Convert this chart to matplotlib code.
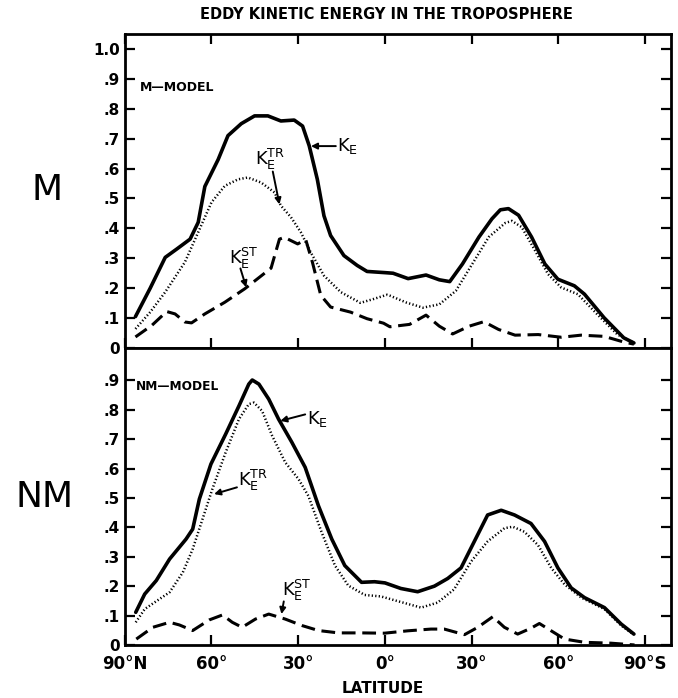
import matplotlib
matplotlib.use("Agg")
import matplotlib.pyplot as plt

plt.rcParams["font.family"] = "DejaVu Sans"
plt.rcParams["mathtext.fontset"] = "dejavusans"

# latitude: negative = north, positive = south
m_ke_lat = [-86.3, -81.2, -76.0, -72.0, -67.4, -64.6, -62.3, -57.7, -54.3, -49.7, -45.1, -40.5,
            -36.0, -31.4, -28.5, -26.2, -23.4, -21.1, -18.8, -14.2, -9.6, -6.2, 0.0, 2.8, 8.0,
            14.2, 18.8, 22.4, 26.8, 32.5, 37.0, 39.9, 42.7, 46.2, 50.7, 55.3, 59.8, 65.5, 69.0,
            75.8, 82.6, 86.1]
m_ke = [0.105, 0.2, 0.303, 0.331, 0.364, 0.42, 0.54, 0.63, 0.71, 0.75, 0.776, 0.776,
        0.759, 0.762, 0.742, 0.676, 0.564, 0.442, 0.376, 0.309, 0.276, 0.256, 0.252, 0.25, 0.232,
        0.244, 0.228, 0.222, 0.281, 0.371, 0.432, 0.462, 0.466, 0.444, 0.371, 0.281, 0.23, 0.208, 0.18,
        0.101, 0.034, 0.017]

m_tr_lat = [-86.3, -81.2, -76.0, -69.2, -64.6, -60.0, -55.4, -50.8, -47.4, -42.8, -38.2, -36.0,
            -32.5, -29.1, -25.7, -21.1, -15.3, -8.5, -3.9, 0.7, 1.7, 7.4, 13.1, 18.8, 24.5, 30.2,
            35.9, 41.6, 43.9, 47.3, 51.9, 56.4, 61.0, 66.7, 73.5, 80.4, 86.1]
m_tr = [0.064, 0.12, 0.187, 0.287, 0.387, 0.487, 0.542, 0.564, 0.57, 0.553, 0.52, 0.476,
        0.437, 0.387, 0.32, 0.242, 0.187, 0.151, 0.164, 0.178, 0.175, 0.152, 0.135, 0.146, 0.191, 0.281,
        0.371, 0.418, 0.425, 0.404, 0.326, 0.247, 0.202, 0.18, 0.112, 0.045, 0.017]

m_st_lat = [-86.3, -80.6, -75.5, -72.6, -69.2, -66.9, -62.3, -55.4, -48.5, -39.4, -36.5, -34.8,
            -30.2, -27.4, -25.1, -22.2, -18.8, -11.9, -6.2, -0.5, 1.7, 8.5, 14.2, 18.8, 23.4, 29.1,
            34.2, 39.3, 45.0, 53.0, 61.0, 67.8, 75.8, 82.6, 86.1]
m_st = [0.037, 0.076, 0.122, 0.114, 0.087, 0.084, 0.114, 0.153, 0.198, 0.267, 0.364, 0.37,
        0.348, 0.362, 0.287, 0.176, 0.137, 0.12, 0.098, 0.083, 0.071, 0.079, 0.11, 0.073, 0.047, 0.073,
        0.088, 0.062, 0.043, 0.045, 0.036, 0.043, 0.039, 0.02, 0.013]

nm_ke_lat = [-86.2, -83.1, -79.1, -74.5, -68.8, -66.5, -64.2, -60.2, -55.1, -50.5, -47.1, -45.9,
             -43.6, -40.2, -36.8, -32.2, -27.6, -23.0, -18.4, -13.9, -8.1, -3.6, 0.0, 5.5, 11.3,
             17.1, 21.7, 26.3, 30.9, 35.5, 40.2, 44.8, 50.5, 55.2, 59.8, 64.4, 69.0, 75.9, 81.7, 86.1]
nm_ke = [0.111, 0.173, 0.219, 0.292, 0.36, 0.394, 0.496, 0.615, 0.717, 0.813, 0.887, 0.901,
         0.887, 0.836, 0.768, 0.689, 0.604, 0.473, 0.36, 0.27, 0.213, 0.215, 0.211, 0.192, 0.181,
         0.2, 0.226, 0.262, 0.352, 0.442, 0.458, 0.442, 0.413, 0.352, 0.262, 0.194, 0.161, 0.127, 0.071, 0.037]

nm_tr_lat = [-86.2, -83.1, -78.0, -74.5, -69.9, -66.5, -63.1, -59.7, -55.1, -50.5, -47.1, -45.3,
             -42.5, -39.0, -34.5, -29.9, -26.5, -21.9, -17.3, -12.7, -7.0, -1.4, 4.4, 12.5, 18.2,
             23.9, 29.8, 35.5, 41.3, 44.2, 48.2, 52.9, 57.5, 62.1, 67.9, 75.9, 81.7, 86.1]
nm_tr = [0.077, 0.122, 0.156, 0.179, 0.247, 0.326, 0.428, 0.53, 0.655, 0.768, 0.819, 0.824,
         0.796, 0.711, 0.621, 0.564, 0.507, 0.383, 0.27, 0.202, 0.17, 0.165, 0.149, 0.127, 0.144,
         0.189, 0.284, 0.352, 0.397, 0.402, 0.385, 0.34, 0.262, 0.206, 0.161, 0.122, 0.066, 0.035]

nm_st_lat = [-86.0, -80.3, -74.5, -71.1, -66.5, -60.8, -56.2, -52.8, -49.4, -44.8, -40.2, -34.5,
             -28.7, -23.0, -16.1, -8.1, -0.2, 7.8, 15.9, 20.5, 27.5, 32.1, 37.3, 41.3, 45.9, 50.5,
             53.4, 57.5, 62.1, 69.0, 78.2, 86.3]
nm_st = [0.02, 0.06, 0.077, 0.068, 0.049, 0.085, 0.102, 0.077, 0.06, 0.088, 0.105, 0.088,
         0.066, 0.049, 0.041, 0.041, 0.04, 0.048, 0.054, 0.054, 0.035, 0.06, 0.096, 0.06, 0.037, 0.057,
         0.073, 0.048, 0.02, 0.009, 0.006, 0.0]

x_ticks = [-90, -60, -30, 0, 30, 60, 90]
x_labels = ["90°N", "60°", "30°", "0°", "30°", "60°", "90°S"]
m_yticks = [0, .1, .2, .3, .4, .5, .6, .7, .8, .9, 1.0]
m_ylabels = ["0", ".1", ".2", ".3", ".4", ".5", ".6", ".7", ".8", ".9", "1.0"]
nm_yticks = [0, .1, .2, .3, .4, .5, .6, .7, .8, .9]
nm_ylabels = ["0", ".1", ".2", ".3", ".4", ".5", ".6", ".7", ".8", ".9"]

fig = plt.figure(figsize=(6.78, 6.98), dpi=100)
ax1 = fig.add_axes([0.184, 0.5014, 0.806, 0.450])
ax2 = fig.add_axes([0.184, 0.076, 0.806, 0.4255])

solid = dict(color="black", lw=2.6, solid_joinstyle="round", solid_capstyle="round")
dotted = dict(color="black", lw=1.8, linestyle=(0, (0.5, 0.9)))
dashed = dict(color="black", lw=2.2, linestyle=(0, (4.5, 2.2)))

ax1.plot(m_ke_lat, m_ke, **solid)
ax1.plot(m_tr_lat, m_tr, **dotted)
ax1.plot(m_st_lat, m_st, **dashed)
ax2.plot(nm_ke_lat, nm_ke, **solid)
ax2.plot(nm_tr_lat, nm_tr, **dotted)
ax2.plot(nm_st_lat, nm_st, **dashed)

for ax in (ax1, ax2):
    ax.set_xlim(-90, 99)
    ax.set_xticks(x_ticks)
    for s in ax.spines.values():
        s.set_linewidth(2.0)
    ax.tick_params(direction="in", length=7, width=1.6, right=True, labelsize=11)

ax1.set_ylim(0, 1.05)
ax1.set_yticks(m_yticks)
ax1.set_yticklabels(m_ylabels, fontweight="bold", fontsize=11)
ax1.tick_params(top=True, labelbottom=False)
ax2.set_ylim(0, 1.01)
ax2.set_yticks(nm_yticks)
ax2.set_yticklabels(nm_ylabels, fontweight="bold", fontsize=11)
ax2.set_xticklabels(x_labels, fontweight="bold", fontsize=12)
ax2.tick_params(axis="x", pad=7)

lab = dict(fontsize=13, fontweight="bold", va="center")
arrow = dict(arrowstyle="-|>", color="black", lw=1.4, mutation_scale=9, shrinkA=0, shrinkB=0)

ax1.text(-84.6, 0.87, "M—MODEL", fontsize=9, fontweight="bold", va="center")
ax1.text(-16.5, 0.675, r"$\mathrm{K_E}$", **lab)
ax1.annotate("", xy=(-25.6, 0.675), xytext=(-17.0, 0.675), arrowprops=arrow)
ax1.text(-45, 0.63, r"$\mathrm{K_E^{TR}}$", **lab)
ax1.annotate("", xy=(-36.5, 0.48), xytext=(-38.8, 0.59), arrowprops=arrow)
ax1.text(-54, 0.30, r"$\mathrm{K_E^{ST}}$", **lab)
ax1.annotate("", xy=(-48.0, 0.203), xytext=(-50.0, 0.266), arrowprops=arrow)

ax2.text(-86, 0.88, "NM—MODEL", fontsize=8.7, fontweight="bold", va="center")
ax2.text(-27, 0.768, r"$\mathrm{K_E}$", **lab)
ax2.annotate("", xy=(-36.2, 0.762), xytext=(-27.6, 0.784), arrowprops=arrow)
ax2.text(-51, 0.56, r"$\mathrm{K_E^{TR}}$", **lab)
ax2.annotate("", xy=(-59.1, 0.513), xytext=(-51.2, 0.536), arrowprops=arrow)
ax2.text(-35.5, 0.185, r"$\mathrm{K_E^{ST}}$", **lab)
ax2.annotate("", xy=(-35.8, 0.105), xytext=(-35.0, 0.148), arrowprops=arrow)

fig.text(0.57, 0.979, "EDDY KINETIC ENERGY IN THE TROPOSPHERE", ha="center", va="center",
         fontsize=10.5, fontweight="bold")
fig.text(0.565, 0.014, "LATITUDE", ha="center", va="center", fontsize=11, fontweight="bold")
fig.text(0.069, 0.728, "M", ha="center", va="center", fontsize=26)
fig.text(0.066, 0.288, "NM", ha="center", va="center", fontsize=26)

fig.savefig("out.png", dpi=100)
